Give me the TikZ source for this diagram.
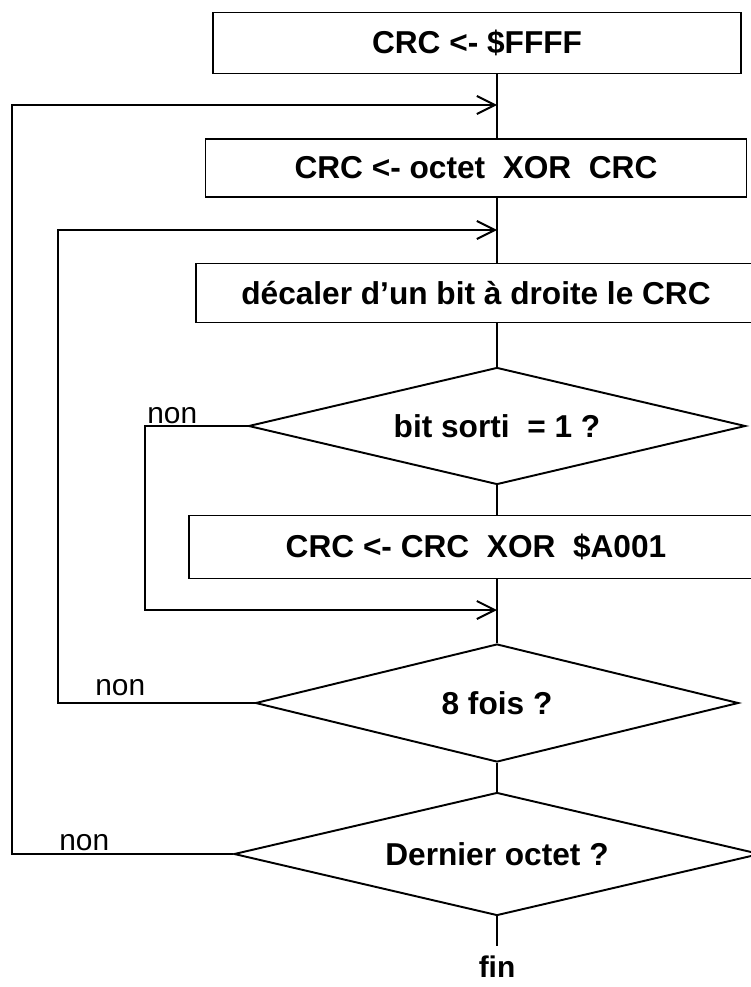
\documentclass[tikz,border=0pt]{standalone}
\usepackage{fontspec}
\setmainfont{Liberation Sans}
\usetikzlibrary{arrows.meta,positioning,shapes.geometric,calc}
\tikzset{
  box/.style      ={rectangle, draw, line width=1.1pt, inner sep=0pt, align=center,
                    font=\fontsize{18}{21}\selectfont\bfseries},
  decision/.style ={diamond, aspect=4.2, draw, line width=1.1pt, inner sep=0pt, align=center,
                    font=\fontsize{18}{21}\selectfont\bfseries},
  conn/.style     ={draw, line width=1.1pt},
  ar/.style       ={conn, -{Straight Barb[length=3.6mm, width=3.6mm]}},
  lbl/.style      ={inner sep=0pt, font=\fontsize{17}{20}\selectfont}
}

\begin{document}
\begin{tikzpicture}[x=0.2mm, y=-0.2mm]
\useasboundingbox (0,0) rectangle (750,987);
\node[box, minimum width=105.6mm, minimum height=12.2mm] (init) at (477,43) {CRC <- \$FFFF};
\node[box, minimum width=108.2mm, minimum height=11.6mm] (xorb) at (476,168)
  {CRC <- octet\ \ XOR\ \ CRC};
\node[box, minimum width=112mm, minimum height=11.8mm] (shift) at (476,293)
  {décaler d'un bit à droite le CRC};
\node[decision, minimum width=99.4mm, minimum height=23.4mm] (bit) at (497,426)
  {bit sorti\ \ = 1 ?};
\node[box, minimum width=114.8mm, minimum height=12.6mm] (xpoly) at (476,547)
  {CRC <- CRC\ \ XOR\ \ \$A001};
\node[decision, minimum width=96.6mm, minimum height=23.6mm] (eight) at (497,703) {8 fois ?};
\node[decision, minimum width=105.2mm, minimum height=24.6mm] (last) at (497,854)
  {Dernier octet ?};
\node[lbl, font=\fontsize{17}{20}\selectfont\bfseries, inner sep=5pt, below=6mm of last] (fin) {fin};
\coordinate (col) at (497,0);
\coordinate (o1) at (12,0);
\coordinate (o2) at (58,0);
\coordinate (o3) at (145,0);
\coordinate (j1) at (497,105);
\coordinate (j2) at (497,230);
\coordinate (j3) at (497,610);
\draw[conn] (init.south -| col) -- (xorb.north -| col);
\draw[conn] (xorb.south -| col) -- (shift.north -| col);
\draw[conn] (shift.south -| col) -- (bit.north);
\draw[conn] (bit.south) -- (xpoly.north -| col);
\draw[conn] (xpoly.south -| col) -- (eight.north);
\draw[conn] (eight.south) -- (last.north);
\draw[conn] (last.south) -- (fin.north);
\draw[ar] (last.west) -- (last.west -| o1) |- (j1);
\draw[ar] (eight.west) -- (eight.west -| o2) |- (j2);
\draw[ar] (bit.west) -- (bit.west -| o3) |- (j3);
\node[lbl, anchor=base west] (non1) at ($(bit.west -| o3)+(2,-3)$) {non};
\node[lbl, anchor=base west] (non2) at ($(eight.west -| o2)+(37,-8)$) {non};
\node[lbl, anchor=base west] (non3) at ($(last.west -| o1)+(47,-4)$) {non};
\end{tikzpicture}
\end{document}
